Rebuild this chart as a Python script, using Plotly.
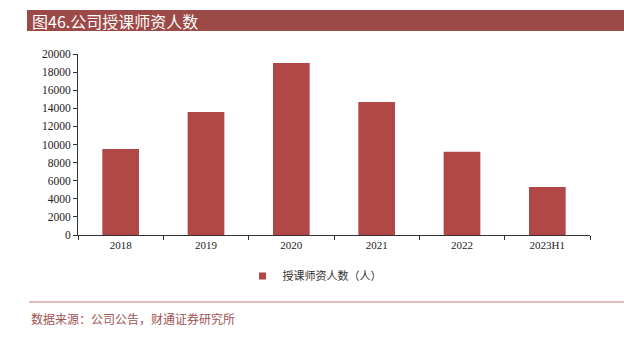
import plotly.graph_objects as go

categories = ["2018", "2019", "2020", "2021", "2022", "2023H1"]
teachers = [9500, 13600, 19000, 14700, 9200, 5300]
y_ticks = [0, 2000, 4000, 6000, 8000, 10000, 12000, 14000, 16000, 18000, 20000]
series_name = "授课师资人数（人）"

bar_color = "#B14746"
title_color = "#9C4A47"
serif = "Liberation Serif"
cjk = "Noto Sans CJK SC"

fig = go.Figure()
fig.add_trace(go.Bar(
    x=categories, y=teachers, name=series_name,
    marker=dict(color=bar_color, line=dict(width=0)),
    width=0.43, showlegend=False,
))
# legend entry with a small square swatch like the original
fig.add_trace(go.Scatter(
    x=[None], y=[None], mode="markers", name=series_name,
    marker=dict(symbol="square", size=7, color=bar_color),
    showlegend=True,
))

fig.update_layout(
    width=624, height=337,
    margin=dict(l=78, r=34, t=54, b=102),
    paper_bgcolor="white", plot_bgcolor="white",
    showlegend=True,
    legend=dict(orientation="h", x=0.462, xanchor="center", y=-0.227, yanchor="middle",
                font=dict(family=cjk, size=11, color="#333333"),
                itemwidth=30),
    xaxis=dict(
        type="category", showline=True, linecolor="#333333", linewidth=1,
        ticks="outside", tickson="boundaries", ticklen=4, tickcolor="#333333",
        tickfont=dict(family=serif, size=11, color="#222222"),
        showgrid=False, zeroline=False,
    ),
    yaxis=dict(
        range=[0, 20000], tickvals=y_ticks, ticktext=[str(v) for v in y_ticks],
        showline=True, linecolor="#333333", linewidth=1,
        ticks="outside", ticklen=4, tickcolor="#333333",
        tickfont=dict(family=serif, size=11.5, color="#222222"),
        showgrid=False, zeroline=False,
    ),
    shapes=[
        dict(type="rect", xref="paper", yref="paper",
             x0=(27 - 78) / 512, x1=(624 - 78) / 512,
             y0=(235 - 31) / 181, y1=(235 - 10) / 181,
             fillcolor=title_color, line=dict(width=0), layer="below"),
        dict(type="line", xref="paper", yref="paper",
             x0=(29 - 78) / 512, x1=(624 - 78) / 512,
             y0=(235 - 302) / 181, y1=(235 - 302) / 181,
             line=dict(color="#C47A74", width=1)),
    ],
    annotations=[
        dict(text="图46.公司授课师资人数", xref="paper", yref="paper",
             x=(30 - 78) / 512, y=(235 - 21) / 181, xanchor="left", yanchor="middle",
             showarrow=False, font=dict(family=cjk, size=16, color="white")),
        dict(text="数据来源：公司公告，财通证券研究所", xref="paper", yref="paper",
             x=(29 - 78) / 512, y=(235 - 318) / 181, xanchor="left", yanchor="middle",
             showarrow=False, font=dict(family=cjk, size=12, color="#A0524F")),
    ],
)

fig.write_html("out.html")
